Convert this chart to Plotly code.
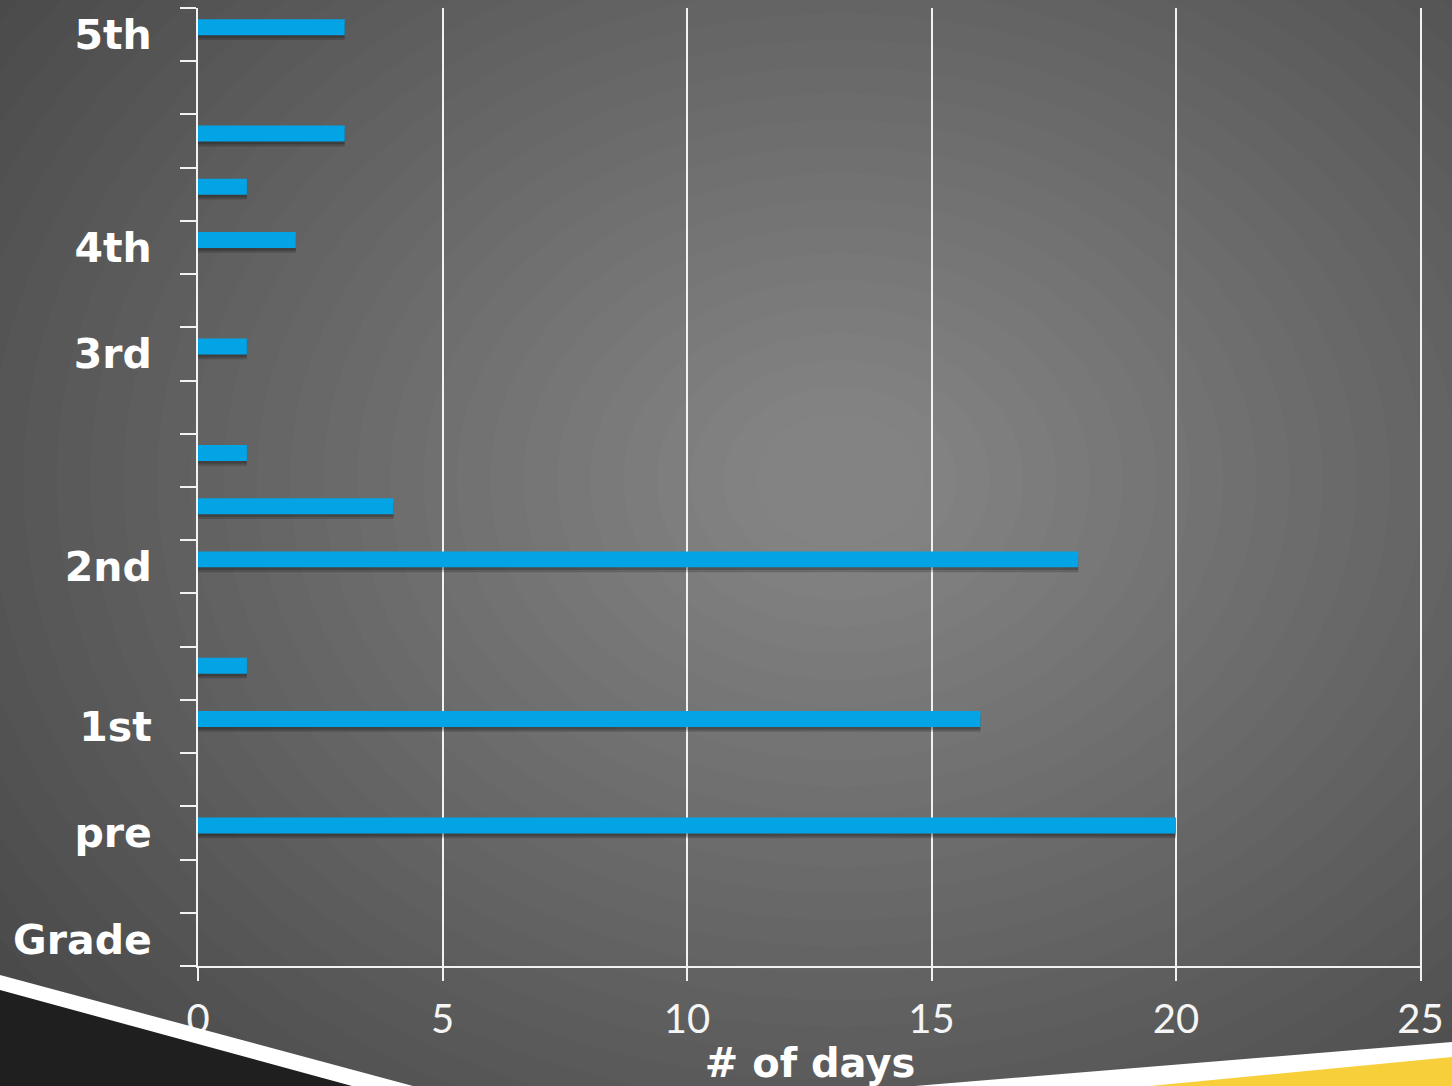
import plotly.graph_objects as go

# grade rows, bottom to top (blank rows are unlabeled categories)
grade_labels = ["Grade", "", "pre", "", "1st", "", "", "2nd", "", "", "",
                "3rd", "", "4th", "", "", "", "5th"]
days = [None, None, 20, None, 16, 1, None, 18, 4, 1, None,
        1, None, 2, 1, 3, None, 3]
rows = list(range(len(grade_labels)))
x_ticks = [0, 5, 10, 15, 20, 25]

W, H = 1452, 1086
L, R, T, B = 198, 30, 8, 120


def px(x):
    return (x - L) / (W - L - R)


def py(y):
    return (H - B - y) / (H - T - B)


fig = go.Figure()

# soft shadow under the bars
fig.add_trace(go.Bar(x=days, y=rows, orientation="h", width=0.3, offset=-0.1,
                     marker=dict(color="rgba(0,0,0,0.18)", line=dict(width=0)),
                     hoverinfo="skip", showlegend=False))
fig.add_trace(go.Bar(x=days, y=rows, orientation="h", width=0.3, offset=-0.06,
                     marker=dict(color="rgba(0,0,0,0.2)", line=dict(width=0)),
                     hoverinfo="skip", showlegend=False))
fig.add_trace(go.Bar(x=days, y=rows, orientation="h", width=0.3, offset=-0.01,
                     marker=dict(color="#03a4e6", line=dict(width=0)),
                     showlegend=False))

shapes = []
# radial-ish grey background
cx, cy = 840, 480
n = 30
for i in range(n):
    rx = 1050 - i * (1000 / n)
    ry = rx * 0.8
    shapes.append(dict(type="circle", xref="paper", yref="paper", layer="below",
                       x0=px(cx - rx), x1=px(cx + rx), y0=py(cy + ry), y1=py(cy - ry),
                       fillcolor="rgba(255,255,255,0.0145)", line=dict(width=0)))

# slide decoration bottom-left
shapes.append(dict(type="path", xref="paper", yref="paper", layer="above",
                   path=f"M {px(0)},{py(975)} L {px(413)},{py(1086)} L {px(0)},{py(1086)} Z",
                   fillcolor="white", line=dict(width=0)))
shapes.append(dict(type="path", xref="paper", yref="paper", layer="above",
                   path=f"M {px(0)},{py(990)} L {px(352)},{py(1086)} L {px(0)},{py(1086)} Z",
                   fillcolor="#1f1f1f", line=dict(width=0)))
# slide decoration bottom-right
shapes.append(dict(type="path", xref="paper", yref="paper", layer="above",
                   path=f"M {px(915)},{py(1086)} L {px(1452)},{py(1042)} L {px(1452)},{py(1086)} Z",
                   fillcolor="white", line=dict(width=0)))
shapes.append(dict(type="path", xref="paper", yref="paper", layer="above",
                   path=f"M {px(1150)},{py(1086)} L {px(1452)},{py(1057)} L {px(1452)},{py(1086)} Z",
                   fillcolor="#f7cf3a", line=dict(width=0)))

fig.update_layout(
    width=W, height=H,
    margin=dict(l=L, r=R, t=T, b=B),
    paper_bgcolor="#484848",
    plot_bgcolor="rgba(0,0,0,0)",
    barmode="overlay",
    shapes=shapes,
    xaxis=dict(range=[0, 25.03], tickvals=x_ticks, showgrid=True, gridcolor="#f2f2f2",
               gridwidth=2, zeroline=False, showline=True, linecolor="#f2f2f2",
               linewidth=2, ticks="outside", ticklen=13, tickwidth=2,
               tickcolor="#f2f2f2", ticklabelstandoff=4,
               tickfont=dict(family="Lato", size=40, color="#f5f5f5"),
               title=dict(text="# of days", standoff=0,
                          font=dict(family="DejaVu Sans", size=40, color="white",
                                    weight="bold"))),
    yaxis=dict(range=[-0.5, len(rows) - 0.5], tickvals=rows, ticktext=grade_labels,
               showgrid=False, zeroline=False, showline=True, linecolor="#f2f2f2",
               linewidth=2, ticks="", ticklabelstandoff=36,
               tickfont=dict(family="DejaVu Sans", size=41, color="white",
                             weight="bold"),
               minor=dict(tickvals=[r - 0.5 for r in rows] + [len(rows) - 0.5],
                          ticks="outside", ticklen=16, tickwidth=2,
                          tickcolor="#f2f2f2", showgrid=False)),
)

fig.write_html("out.html", config={"displayModeBar": False},
               post_script="document.body.style.margin='0';")
